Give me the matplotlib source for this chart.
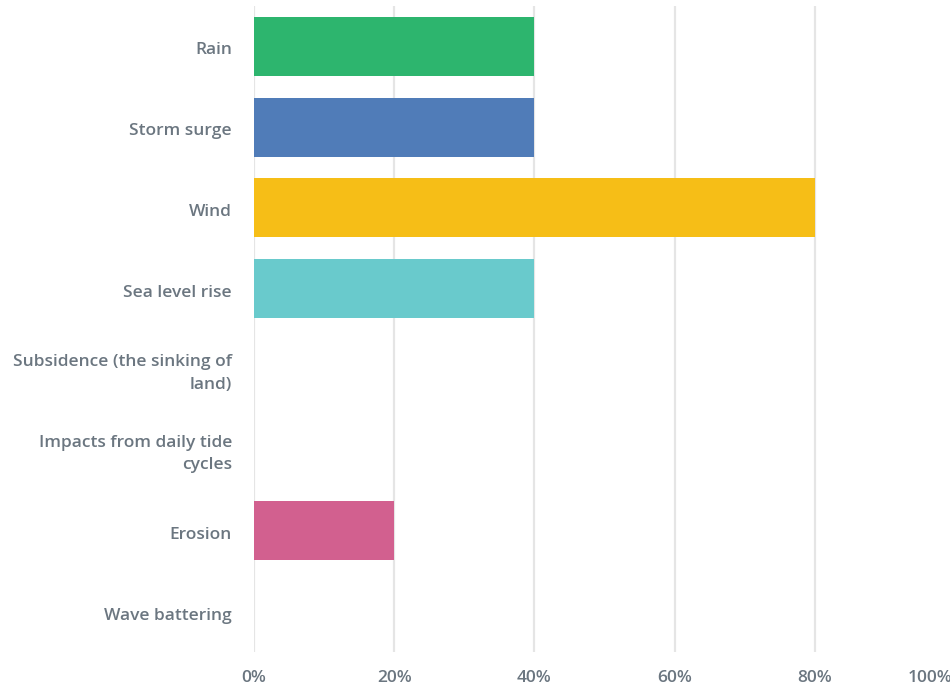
import matplotlib
matplotlib.use("Agg")
import matplotlib.pyplot as plt
from matplotlib.transforms import offset_copy

categories = [
    "Rain",
    "Storm surge",
    "Wind",
    "Sea level rise",
    "Subsidence (the sinking of\nland)",
    "Impacts from daily tide\ncycles",
    "Erosion",
    "Wave battering",
]
values = [40, 40, 80, 40, 0, 0, 20, 0]
colors = ["#2DB56E", "#507CB8", "#F6BE17", "#69CACC", "#A0A0A0", "#A0A0A0", "#D2608F", "#A0A0A0"]
xticks = [0, 20, 40, 60, 80, 100]
xtick_labels = ["0%", "20%", "40%", "60%", "80%", "100%"]

W, H = 950, 687
fig = plt.figure(figsize=(W / 100, H / 100), dpi=100)
ax = fig.add_axes([254 / W, 35 / H, (955 - 254) / W, (652 - 6) / H])

text_color = "#6B7680"
font = dict(family=["Open Sans", "DejaVu Sans"], weight="semibold", size=12.5, color=text_color)

ypos = list(range(len(categories)))
ax.barh(ypos, values, height=0.73, color=colors, zorder=3)

ax.set_xlim(0, 100)
ax.set_ylim(len(categories) - 0.5, -0.5)
for x in xticks:
    ax.axvline(x, color="#E5E5E5", lw=1.6, zorder=1)

for s in ax.spines.values():
    s.set_visible(False)
ax.set_xticks([])
ax.set_yticks([])

label_tr = offset_copy(ax.transData, fig=fig, x=-22, y=-4, units="dots")
for y, lab in zip(ypos, categories):
    ax.text(0, y, lab, transform=label_tr, ha="right", va="center",
            linespacing=1.55, **font)

for x, lab in zip(xticks, xtick_labels):
    tr = ax.get_xaxis_transform()
    dx = -25 if x == 100 else 0
    tr = offset_copy(tr, fig=fig, x=dx, y=-26, units="dots")
    ax.text(x, 0, lab, transform=tr, ha="center", va="center", **font)

fig.savefig("out.png", dpi=100)
